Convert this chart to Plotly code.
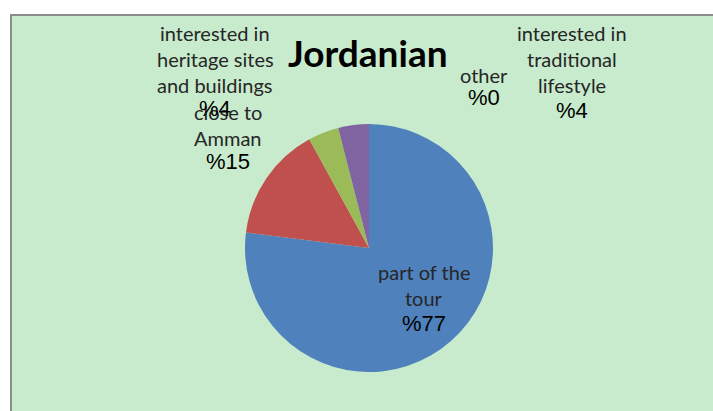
import plotly.graph_objects as go

labels = ["part of the tour", "close to Amman", "interested in heritage sites and buildings",
          "interested in traditional lifestyle", "other"]
values = [77, 15, 4, 4, 0]
colors = ["#4F81BD", "#C0504D", "#9BBB59", "#8064A2", "#F79646"]
title_text = "Jordanian"

# label line breaks (text layout) and annotation positions in pixels (layout only)
label_lines = {
    "part of the tour": ["part of the", "tour"],
    "close to Amman": ["close to", "Amman"],
    "interested in heritage sites and buildings": ["interested in", "heritage sites", "and buildings"],
    "interested in traditional lifestyle": ["interested in", "traditional", "lifestyle"],
    "other": ["other"],
}
label_pos = {  # (x center, y of first line, y of percent line)
    "part of the tour": (424, 272, 323),
    "close to Amman": (228, 112, 162),
    "interested in heritage sites and buildings": (215, 33, 108),
    "interested in traditional lifestyle": (572, 33, 110),
    "other": (484, 75, 98),
}

W, H = 713, 411
LINE = 26

fig = go.Figure()
fig.add_trace(go.Pie(
    labels=labels, values=values, sort=False, direction="clockwise", rotation=0,
    marker=dict(colors=colors, line=dict(width=0)),
    textinfo="none", hoverinfo="label+percent", showlegend=False,
    domain=dict(x=[245 / W, 493 / W], y=[(H - 372) / H, (H - 124) / H]),
))

annotations = []
for lab, val in zip(labels, values):
    xc, y0, yp = label_pos[lab]
    for i, line in enumerate(label_lines[lab]):
        annotations.append(dict(
            x=xc / W, y=1 - (y0 + i * LINE) / H, xref="paper", yref="paper",
            text=line, showarrow=False, xanchor="center", yanchor="middle",
            font=dict(family="Lato", size=20, color="#262626"),
        ))
    annotations.append(dict(
        x=xc / W, y=1 - yp / H, xref="paper", yref="paper",
        text="%" + str(val), showarrow=False, xanchor="center", yanchor="middle",
        font=dict(family="Liberation Sans", size=22, color="#000000"),
    ))

annotations.append(dict(
    x=368 / W, y=1 - 53 / H, xref="paper", yref="paper",
    text="<b>" + title_text + "</b>", showarrow=False, xanchor="center", yanchor="middle",
    font=dict(family="Lato", size=37, color="#000000"),
))

fig.update_layout(
    width=W, height=H, margin=dict(l=0, r=0, t=0, b=0),
    paper_bgcolor="white", plot_bgcolor="white",
    annotations=annotations,
    shapes=[dict(type="rect", xref="paper", yref="paper",
                 x0=11 / W, x1=1.01, y0=-0.01, y1=1 - 15 / H,
                 line=dict(color="#8C8C8C", width=2), fillcolor="#C7EBCC", layer="below")],
)

fig.write_html("out.html", config={"displayModeBar": False},
               post_script="document.body.style.margin='0';document.body.style.overflow='hidden';")
